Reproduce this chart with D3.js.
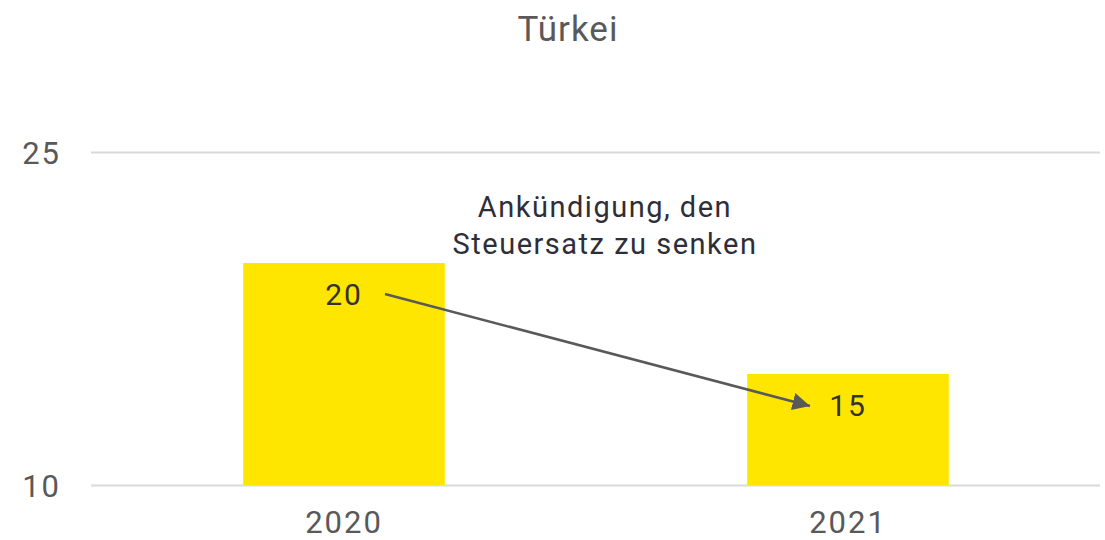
<!DOCTYPE html>
<html>
<head>
<meta charset="utf-8">
<script src="https://cdn.jsdelivr.net/npm/d3@7"></script>
<style>
  body { margin: 0; background: #fff; }
  svg text { font-family: Roboto, "Liberation Sans", sans-serif; }
</style>
</head>
<body>
<div id="chart"></div>
<script>
// chart data
const years = ["2020", "2021"];
const rates = [20, 15];
const yTicks = [10, 25];
const chartTitle = "Türkei";
const noteLines = ["Ankündigung, den", "Steuersatz zu senken"];

const width = 1105, height = 540;

let svg = d3.select("#chart")
    .append("svg")
    .attr("width", width)
    .attr("height", height);

// scales
let x = d3.scaleBand()
    .domain(years)
    .range([92, 1100])
    .paddingInner(0.6)
    .paddingOuter(0.3);

let y = d3.scaleLinear()
    .domain([10, 25])
    .range([485, 152]);

// gridlines + y labels
let yAxis = d3.axisLeft(y)
    .tickValues(yTicks)
    .tickSize(-(1100 - 91))
    .tickPadding(30);

let yg = svg.append("g")
    .attr("transform", "translate(91,0)")
    .call(yAxis);
yg.select(".domain").remove();
yg.selectAll(".tick line")
    .attr("stroke", "#d9d9d9")
    .attr("stroke-width", 2);
yg.selectAll(".tick text")
    .attr("fill", "#595959")
    .attr("font-size", 31)
    .attr("letter-spacing", 2)
    .attr("dy", "0.36em");

// bars
svg.selectAll(".bar")
    .data(years)
    .enter()
    .append("rect")
    .attr("class", "bar")
    .attr("x", d => x(d))
    .attr("width", x.bandwidth())
    .attr("y", (d, i) => y(rates[i]))
    .attr("height", (d, i) => y(10) - y(rates[i]))
    .attr("fill", "#ffe600");

// x labels
let xAxis = d3.axisBottom(x).tickSize(0).tickPadding(0);
let xg = svg.append("g")
    .attr("transform", "translate(0,485)")
    .call(xAxis);
xg.select(".domain").remove();
xg.selectAll(".tick text")
    .attr("fill", "#595959")
    .attr("font-size", 31)
    .attr("letter-spacing", 2)
    .attr("dy", "1.56em");

// value labels inside bars
svg.selectAll(".val")
    .data(years)
    .enter()
    .append("text")
    .attr("class", "val")
    .attr("x", d => x(d) + x.bandwidth() / 2)
    .attr("y", (d, i) => y(rates[i]) + 42)
    .attr("text-anchor", "middle")
    .attr("font-size", 30)
    .attr("letter-spacing", 2)
    .attr("fill", "#333")
    .text((d, i) => rates[i]);

// arrow from the 2020 label to the 2021 label
svg.append("defs").append("marker")
    .attr("id", "head")
    .attr("viewBox", "0 0 10 10")
    .attr("refX", 10)
    .attr("refY", 5)
    .attr("markerWidth", 7)
    .attr("markerHeight", 7)
    .attr("markerUnits", "strokeWidth")
    .attr("orient", "auto")
    .append("path")
    .attr("d", "M0,0 L10,5 L0,10 z")
    .attr("fill", "#595959");

let c0 = x(years[0]) + x.bandwidth() / 2;
let c1 = x(years[1]) + x.bandwidth() / 2;
svg.append("line")
    .attr("x1", c0 + 41)
    .attr("y1", y(rates[0]) + 31)
    .attr("x2", c1 - 38)
    .attr("y2", y(rates[1]) + 32)
    .attr("stroke", "#595959")
    .attr("stroke-width", 2.5)
    .attr("marker-end", "url(#head)");

// annotation
svg.append("text")
    .attr("x", 605)
    .attr("y", 217)
    .attr("text-anchor", "middle")
    .attr("font-size", 29)
    .attr("letter-spacing", 1.5)
    .attr("fill", "#2e2e38")
    .selectAll("tspan")
    .data(noteLines)
    .enter()
    .append("tspan")
    .attr("x", 605)
    .attr("dy", (d, i) => i === 0 ? 0 : 37)
    .text(d => d);

// title
svg.append("text")
    .attr("x", 568)
    .attr("y", 41)
    .attr("text-anchor", "middle")
    .attr("font-size", 35)
    .attr("letter-spacing", 1)
    .attr("fill", "#595959")
    .text(chartTitle);
</script>
</body>
</html>
